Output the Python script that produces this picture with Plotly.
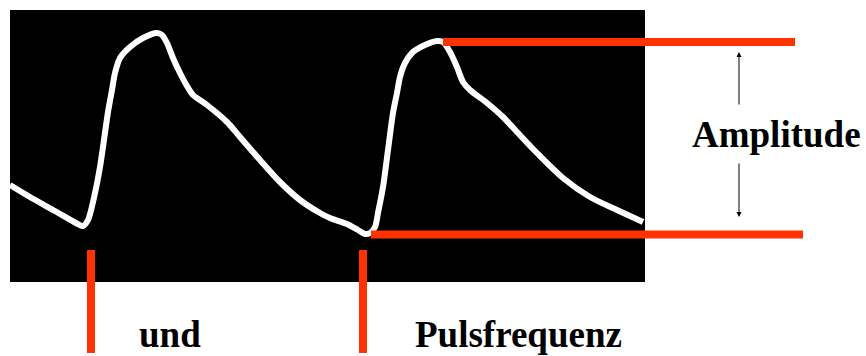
import plotly.graph_objects as go

# Pulse waveform (x: time axis units, y: signal level units)
time = [10, 30, 55, 76, 83, 88, 95, 100, 104, 108, 112, 115, 120, 130, 143,
        157, 162, 167, 173, 180, 187, 193, 207, 227, 240, 260, 280, 300, 320,
        330, 347, 358, 365, 370, 375, 378, 383, 388, 393, 397, 400, 405, 413,
        425, 437, 443, 450, 457, 463, 470, 487, 503, 517, 537, 563, 590, 617,
        643]
signal = [171, 159, 145, 133, 130, 136, 163, 189, 216, 244, 266, 283, 298, 309,
          318, 323, 321, 313, 298, 283, 270, 261, 251, 234, 219, 196, 174, 156,
          143, 138, 132, 126, 122, 123, 129, 143, 169, 206, 243, 263, 279, 293,
          304, 311, 315, 314, 304, 289, 274, 266, 253, 239, 224, 203, 178, 159,
          146, 134]

# Annotation values
onset_times = [91, 363]          # pulse onsets (marker lines)
peak_level = 314                 # upper amplitude line
trough_level = 121.5             # lower amplitude line
peak_line_x = [443, 795]
trough_line_x = [371, 803]
labels = ["Amplitude", "und", "Pulsfrequenz"]

RED = "#FF3300"
FONT = dict(family="Liberation Serif, Times New Roman, serif", size=37, color="black")

fig = go.Figure()

fig.add_trace(go.Scatter(
    x=time, y=signal, mode="lines",
    line=dict(color="white", width=6, shape="spline", smoothing=0.8),
    hoverinfo="skip", showlegend=False,
))

shapes = [
    dict(type="rect", xref="x", yref="y", x0=10, x1=645, y0=74, y1=346,
         fillcolor="black", line=dict(width=0), layer="below"),
]
for t in onset_times:
    shapes.append(dict(type="line", xref="x", yref="y", x0=t, x1=t, y0=3, y1=106,
                       line=dict(color=RED, width=8), layer="above"))
shapes.append(dict(type="line", xref="x", yref="y", x0=peak_line_x[0], x1=peak_line_x[1],
                   y0=peak_level, y1=peak_level, line=dict(color=RED, width=8), layer="above"))
shapes.append(dict(type="line", xref="x", yref="y", x0=trough_line_x[0], x1=trough_line_x[1],
                   y0=trough_level, y1=trough_level, line=dict(color=RED, width=8), layer="above"))

annotations = [
    dict(x=776, y=222, xref="x", yref="y", text="<b>%s</b>" % labels[0], showarrow=False,
         font=FONT, xanchor="center", yanchor="middle"),
    dict(x=170, y=22, xref="x", yref="y", text="<b>%s</b>" % labels[1], showarrow=False,
         font=FONT, xanchor="center", yanchor="middle"),
    dict(x=518, y=22, xref="x", yref="y", text="<b>%s</b>" % labels[2], showarrow=False,
         font=FONT, xanchor="center", yanchor="middle"),
    dict(x=739, y=304, ax=739, ay=250, xref="x", yref="y", axref="x", ayref="y",
         text="", showarrow=True, arrowhead=2, arrowsize=1, arrowwidth=1, arrowcolor="black"),
    dict(x=739, y=139, ax=739, ay=194, xref="x", yref="y", axref="x", ayref="y",
         text="", showarrow=True, arrowhead=2, arrowsize=1, arrowwidth=1, arrowcolor="black"),
]

fig.update_layout(
    width=866, height=356,
    margin=dict(l=0, r=0, t=0, b=0),
    paper_bgcolor="white", plot_bgcolor="white",
    xaxis=dict(range=[0, 866], visible=False, fixedrange=True),
    yaxis=dict(range=[0, 356], visible=False, fixedrange=True),
    shapes=shapes, annotations=annotations,
)

fig.write_html("out.html", config={"displayModeBar": False},
               post_script="document.body.style.margin='0';document.body.style.overflow='hidden';")
